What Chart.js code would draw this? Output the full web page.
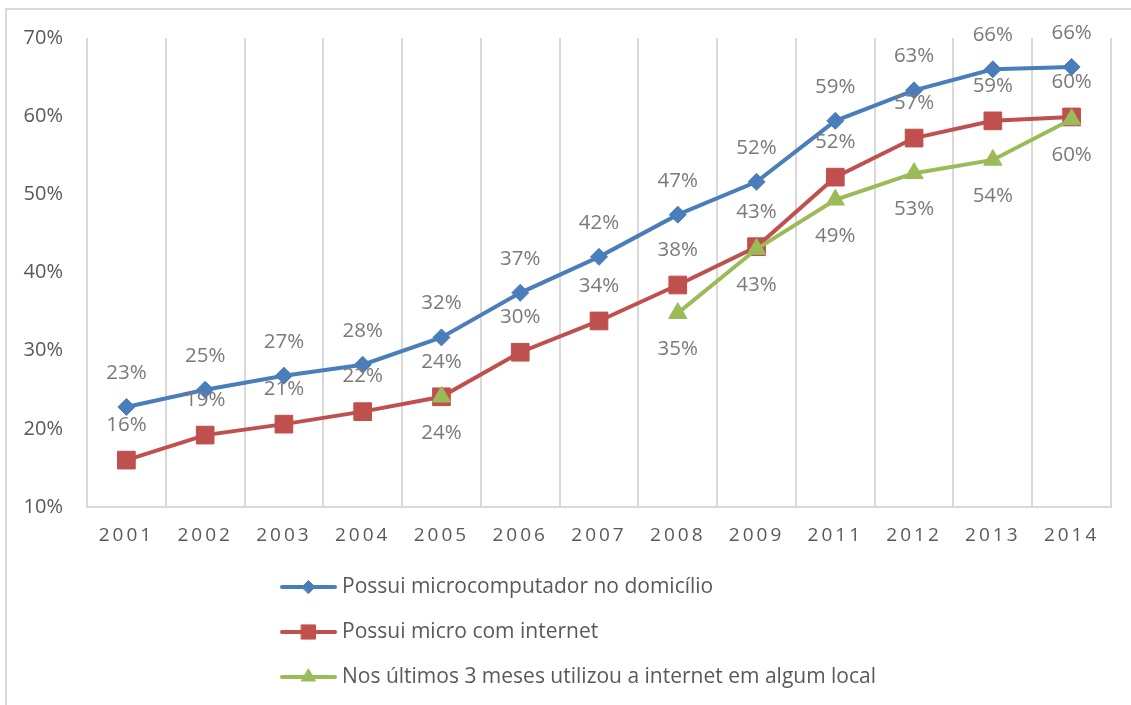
<!DOCTYPE html>
<html>
<head>
<meta charset="utf-8">
<script src="https://cdn.jsdelivr.net/npm/chart.js@4"></script>
<style>
  html, body { margin: 0; padding: 0; background: #fff; overflow: hidden; }
  #moldura { position: absolute; left: 5px; top: 8px; width: 1200px; height: 800px; border: 2px solid #d9d9d9; }
  #caixa { position: absolute; left: 0; top: 0; width: 1131px; height: 705px; }
</style>
</head>
<body>
<div id="moldura"></div>
<div id="caixa"><canvas id="graficoInternet" width="1131" height="705"></canvas></div>
<script>
const anos = ['2001', '2002', '2003', '2004', '2005', '2006', '2007', '2008', '2009', '2011', '2012', '2013', '2014'];
const possuiMicro = [22.8, 25.0, 26.8, 28.2, 31.7, 37.4, 42.0, 47.4, 51.6, 59.4, 63.3, 66.0, 66.3];
const microInternet = [16.0, 19.2, 20.6, 22.2, 24.1, 29.8, 33.8, 38.4, 43.3, 52.2, 57.2, 59.4, 59.9];
const usouInternet = [null, null, null, null, 24.1, null, null, 34.8, 43.0, 49.3, 52.7, 54.4, 59.6];
const ticksY = [10, 20, 30, 40, 50, 60, 70];

const CINZA = '#595959';
const FONTE = '"Open Sans", "DejaVu Sans", sans-serif';

// rotulos de dados (sem chartjs-plugin-datalabels)
const rotulos = {
  id: 'rotulos',
  afterDatasetsDraw(chart) {
    const ctx = chart.ctx;
    const desloc = [-34, -35, 36];
    ctx.save();
    ctx.font = '20.5px ' + FONTE;
    ctx.fillStyle = '#7a7a7a';
    ctx.textAlign = 'center';
    ctx.textBaseline = 'middle';
    chart.data.datasets.forEach(function (ds, i) {
      chart.getDatasetMeta(i).data.forEach(function (pt, j) {
        const v = ds.data[j];
        if (v === null) return;
        ctx.fillText(Math.round(v) + '%', pt.x, pt.y + desloc[i]);
      });
    });
    ctx.restore();
  }
};

// legenda vertical abaixo do grafico
const legenda = {
  id: 'legenda',
  afterDraw(chart) {
    const ctx = chart.ctx;
    const raios = [6.5, 10, 8];
    const topo = chart.chartArea.bottom + 80;
    ctx.save();
    chart.data.datasets.forEach(function (ds, i) {
      const y = topo + i * 45;
      ctx.strokeStyle = ds.borderColor;
      ctx.lineWidth = 4;
      ctx.lineCap = 'round';
      ctx.beginPath();
      ctx.moveTo(282, y);
      ctx.lineTo(335, y);
      ctx.stroke();
      ctx.fillStyle = ds.pointBackgroundColor;
      ctx.lineWidth = 1;
      Chart.helpers.drawPoint(ctx, { pointStyle: ds.pointStyle, radius: raios[i], borderWidth: 1 }, 308.5, y);
      ctx.fillStyle = CINZA;
      ctx.font = '21px ' + FONTE;
      ctx.textAlign = 'left';
      ctx.textBaseline = 'middle';
      ctx.fillText(ds.label, 342, y);
    });
    ctx.restore();
  }
};

// espacamento entre letras nos anos
const espacamento = {
  id: 'espacamento',
  afterUpdate(chart) {
    const s = chart.scales.x;
    if (s && !s._espacado) {
      const orig = s.drawLabels;
      s.drawLabels = function (area) {
        this.ctx.save();
        this.ctx.letterSpacing = '3px';
        orig.call(this, area);
        this.ctx.restore();
      };
      s._espacado = true;
    }
  }
};

const ctx = document.getElementById('graficoInternet').getContext('2d');

new Chart(ctx, {
  type: 'line',
  data: {
    labels: anos,
    datasets: [
      {
        label: 'Possui microcomputador no domicílio',
        data: possuiMicro,
        borderColor: '#4a7ebb',
        backgroundColor: '#4a7ebb',
        pointBackgroundColor: '#4a7ebb',
        borderWidth: 4,
        pointStyle: 'rectRot',
        pointRadius: 8.5,
        pointBorderWidth: 1,
        order: 2
      },
      {
        label: 'Possui micro com internet',
        data: microInternet,
        borderColor: '#c0504d',
        backgroundColor: '#c0504d',
        pointBackgroundColor: '#c0504d',
        borderWidth: 4,
        pointStyle: 'rect',
        pointRadius: 12.5,
        pointBorderWidth: 1,
        order: 1
      },
      {
        label: 'Nos últimos 3 meses utilizou a internet em algum local',
        data: usouInternet,
        borderColor: '#9bbb59',
        backgroundColor: '#9bbb59',
        pointBackgroundColor: '#9bbb59',
        borderWidth: 4,
        pointStyle: 'triangle',
        pointRadius: 10.5,
        pointBorderWidth: 1,
        spanGaps: false,
        order: 0
      }
    ]
  },
  options: {
    responsive: false,
    animation: false,
    layout: { padding: { left: 0, right: 20, top: 38, bottom: 158 } },
    scales: {
      x: {
        offset: true,
        grid: { offset: true, color: '#d9d9d9', lineWidth: 2, drawTicks: false },
        border: { display: true, color: '#d9d9d9', width: 2 },
        ticks: { color: CINZA, font: { size: 19, family: FONTE }, padding: 17, maxRotation: 0, autoSkip: false },
        afterFit: function (s) { s.height = 40; }
      },
      y: {
        min: ticksY[0],
        max: ticksY[ticksY.length - 1],
        afterBuildTicks: function (s) { s.ticks = ticksY.map(v => ({ value: v })); },
        grid: { display: false },
        border: { display: false },
        ticks: {
          color: CINZA,
          font: { size: 20, family: FONTE },
          padding: 16,
          callback: function (v) { return v + '%'; }
        },
        afterFit: function (s) { s.width = 87; }
      }
    },
    plugins: {
      legend: { display: false },
      tooltip: { enabled: false }
    }
  },
  plugins: [rotulos, legenda, espacamento]
});
</script>
</body>
</html>
